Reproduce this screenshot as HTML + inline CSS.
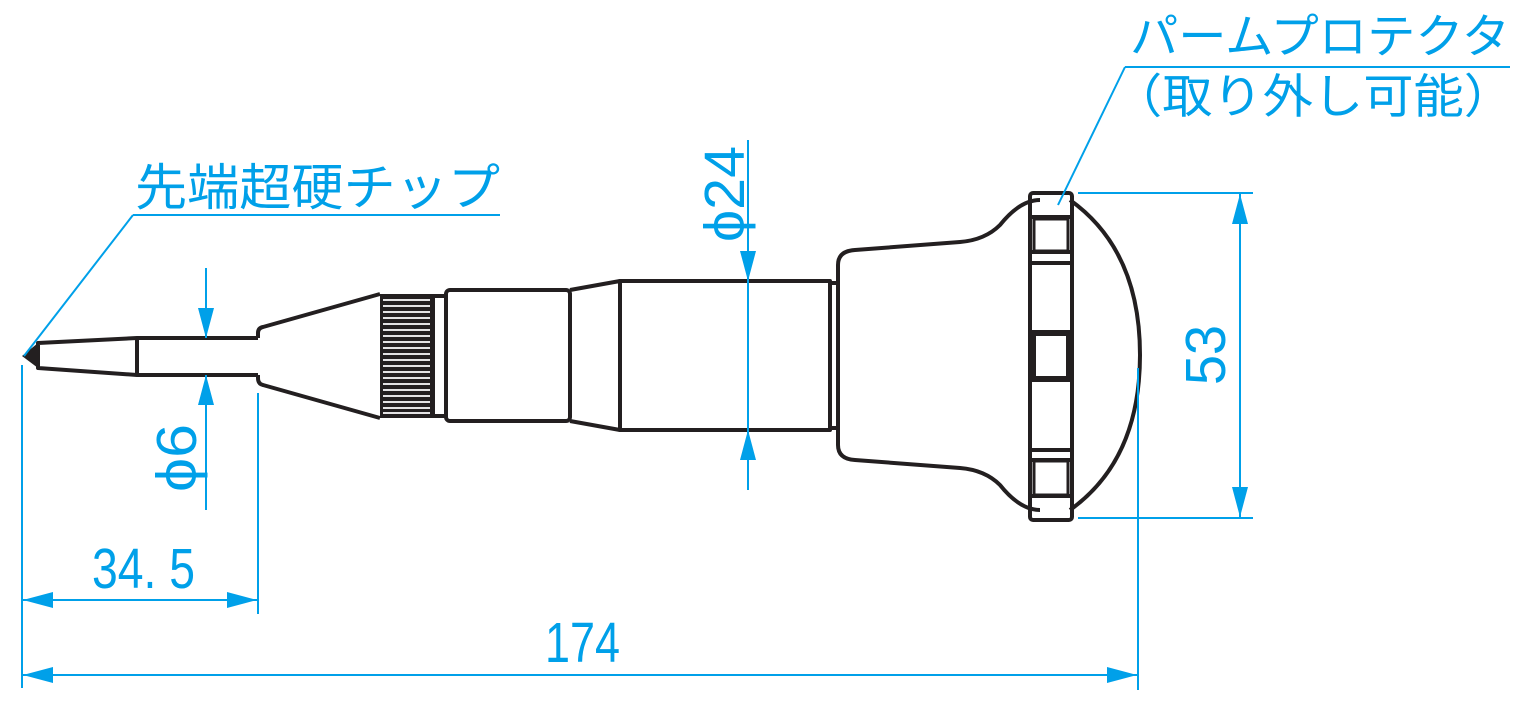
<!DOCTYPE html>
<html><head><meta charset="utf-8"><style>
html,body{margin:0;padding:0;background:#fff;}
svg{display:block;}
.t{font-family:"Liberation Sans Narrow","Liberation Sans",sans-serif;fill:#00a0e9;}
.j{font-family:"Liberation Sans","Noto Sans CJK JP",sans-serif;fill:#00a0e9;}
</style></head><body>
<svg width="1534" height="704" viewBox="0 0 1534 704" xmlns="http://www.w3.org/2000/svg">
<defs>
<marker id="a" viewBox="0 0 30 16" refX="30" refY="8" markerWidth="30" markerHeight="16" markerUnits="userSpaceOnUse" orient="auto-start-reverse"><path d="M0,0 L30,8 L0,16 z" fill="#00a0e9"/></marker>
</defs>
<rect x="380" y="294" width="53" height="124" fill="#231f20"/>
<g stroke="#fff" stroke-width="1.8">
<path d="M383,300H430M383,306H430M383,312H430M383,318H430M383,324H430M383,330H430M383,336H430M383,342H430M383,348H430M383,354H430M383,360H430M383,366H430M383,372H430M383,378H430M383,384H430M383,390H430M383,396H430M383,402H430M383,408H430M383,413H430"/>
</g>
<g stroke="#231f20" stroke-width="4" fill="none" stroke-linejoin="round">
<path d="M38,343 L137,338 L137,375 L38,368 Z"/>
<path d="M137,338 L258,338 M137,375 L258,375"/>
<path d="M258,338 L258,333 Q258,328 263,327 L380,294 M380,418 L263,385 Q258,384 258,378 L258,375"/>
<rect x="433" y="296" width="13" height="120"/>
<rect x="446" y="290" width="124" height="131" rx="4"/>
<path d="M570,290 L620,281 L620,430 L570,421"/>
<rect x="620" y="281" width="210" height="149"/>
<rect x="830" y="283" width="8" height="145"/>
<path d="M1040,200 Q1020,200 1000,225 Q985,240 960,242 L855,250 Q838,251 838,265 L838,445 Q838,459 855,460 L960,468 Q985,470 1000,485 Q1020,510 1040,510"/>
<path d="M1070,200 Q1140,250 1140,355 Q1140,460 1070,510"/>
<rect x="1030" y="193" width="42" height="327" rx="3"/>
<path d="M1032,217 L1070,217 M1032,252 L1070,252 M1032,263 L1070,263 M1032,332 L1070,332 M1032,380 L1070,380 M1032,450 L1070,450 M1032,460 L1070,460 M1032,496 L1070,496"/>
</g>
<rect x="1034" y="219" width="34" height="32" fill="none" stroke="#231f20" stroke-width="3"/>
<rect x="1034" y="334" width="34" height="44" fill="none" stroke="#231f20" stroke-width="4"/>
<rect x="1034" y="461" width="34" height="34" fill="none" stroke="#231f20" stroke-width="3"/>
<path d="M22,356 L38,343 L38,368 Z" fill="#231f20"/>
<g stroke="#00a0e9" stroke-width="2" fill="none">
<path d="M22,365 V688 M258,393 V614 M1138,368 V690 M1078,193 H1253 M1078,518 H1253 M748,140 V490"/>
<path d="M133,215 H500 M133,215 L24,356 M1125,67 H1510 M1125,67 L1058,205"/>
<path d="M206,268 V338 M206,375 V510"/>
<path d="M23,600 H257" marker-start="url(#a)" marker-end="url(#a)"/>
<path d="M23,675 H1137" marker-start="url(#a)" marker-end="url(#a)"/>
<path d="M1240,194 V517" marker-start="url(#a)" marker-end="url(#a)"/>
<path d="M206,290 V338" marker-end="url(#a)"/>
<path d="M206,425 V375" marker-end="url(#a)"/>
<path d="M748,230 V281" marker-end="url(#a)"/>
<path d="M748,480 V430" marker-end="url(#a)"/>
</g>
<text class="t" x="92" y="588" font-size="57" textLength="103" lengthAdjust="spacingAndGlyphs">34. 5</text>
<text class="t" x="545" y="662" font-size="57" textLength="75" lengthAdjust="spacingAndGlyphs">174</text>
<text class="t" font-size="57" transform="translate(1225,385) rotate(-90)" textLength="60" lengthAdjust="spacingAndGlyphs">53</text>
<text class="t" font-size="57" transform="translate(196,492) rotate(-90)" textLength="68" lengthAdjust="spacingAndGlyphs">ϕ6</text>
<text class="t" font-size="57" transform="translate(744,242) rotate(-90)" textLength="96" lengthAdjust="spacingAndGlyphs">ϕ24</text>
<text class="j" x="135" y="205" font-size="50" textLength="365" lengthAdjust="spacingAndGlyphs">先端超硬チップ</text>
<text class="j" x="1130" y="53" font-size="47" textLength="380" lengthAdjust="spacingAndGlyphs">パームプロテクタ</text>
<text class="j" x="1112" y="113" font-size="47" textLength="402" lengthAdjust="spacingAndGlyphs">（取り外し可能）</text>
</svg>
</body></html>
